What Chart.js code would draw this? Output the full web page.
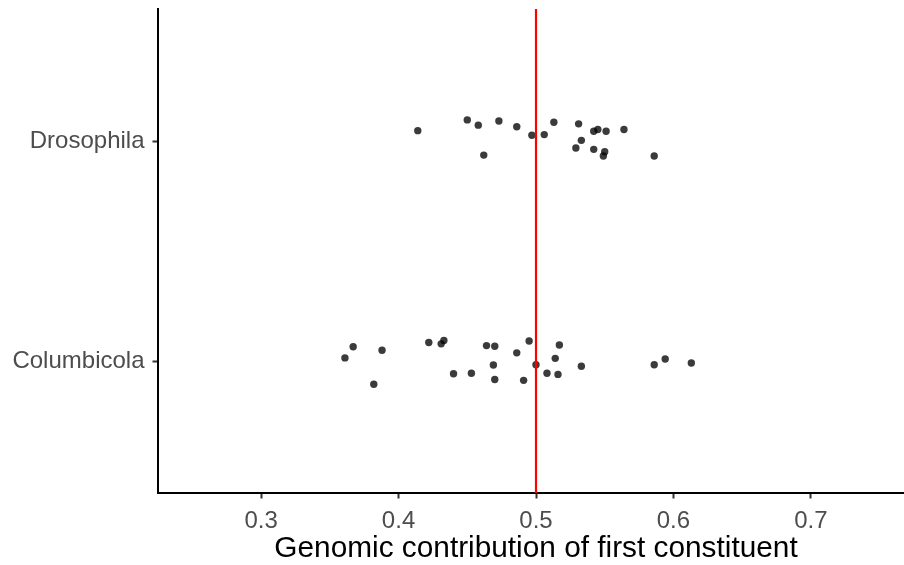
<!DOCTYPE html>
<html>
<head>
<meta charset="utf-8">
<title>Genomic contribution of first constituent</title>
<script src="https://cdn.jsdelivr.net/npm/chart.js@4"></script>
<style>
  html, body { margin: 0; padding: 0; background: #ffffff; overflow: hidden; }
  #wrap { width: 904px; height: 565px; overflow: hidden; }
</style>
</head>
<body>
<div id="wrap"><canvas id="chart" width="914" height="565"></canvas></div>
<script>
// Groups shown on the vertical axis (bottom to top)
const categories = ['Columbicola', 'Drosophila'];

// Genomic contribution of the first constituent, per sample
const columbicolaValues = [0.367, 0.361, 0.388, 0.382, 0.422, 0.431, 0.433, 0.440, 0.453,
  0.464, 0.470, 0.469, 0.470, 0.486, 0.495, 0.491, 0.500, 0.508, 0.517, 0.514, 0.516,
  0.533, 0.586, 0.594, 0.613];
const drosophilaValues = [0.414, 0.450, 0.458, 0.473, 0.486, 0.497, 0.506, 0.513, 0.531,
  0.542, 0.545, 0.551, 0.564, 0.533, 0.529, 0.542, 0.550, 0.549, 0.462, 0.586];

// Vertical jitter of each point around its group line (in group units)
const columbicolaJitter = [0.065, 0.014, 0.049, -0.106, 0.084, 0.078, 0.093, -0.058, -0.056,
  0.070, 0.067, -0.018, -0.084, 0.037, 0.091, -0.088, -0.017, -0.056, 0.073, 0.012, -0.061,
  -0.024, -0.017, 0.009, -0.009];
const drosophilaJitter = [0.047, 0.096, 0.072, 0.091, 0.065, 0.026, 0.029, 0.085, 0.078,
  0.044, 0.052, 0.044, 0.052, 0.003, -0.032, -0.038, -0.049, -0.068, -0.064, -0.068];

// Axis ticks and the reference line
const xTicks = [0.3, 0.4, 0.5, 0.6, 0.7];
const referenceValue = 0.5;
const xRange = [0.225, 0.775];
const yRange = [0.4, 2.6];

const FONT = "'Liberation Sans', Arial, Helvetica, sans-serif";

function groupPoints(values, jitter, groupIndex) {
  return values.map((v, i) => ({ x: v, y: groupIndex + 1 + jitter[i] }));
}

const points = groupPoints(columbicolaValues, columbicolaJitter, 0)
  .concat(groupPoints(drosophilaValues, drosophilaJitter, 1));

// Keep the plotting area flush with the axis lines (no label overhang padding)
function noOverhang(scale) {
  scale.paddingTop = 0;
  scale.paddingBottom = 0;
  scale.paddingLeft = 0;
  scale.paddingRight = 0;
}

new Chart(document.getElementById('chart'), {
  type: 'scatter',
  data: {
    datasets: [
      {
        type: 'line',
        data: [{ x: referenceValue, y: yRange[0] }, { x: referenceValue, y: yRange[1] }],
        borderColor: '#ff0000',
        borderWidth: 2.2,
        pointRadius: 0,
        fill: false,
        order: 0
      },
      {
        data: points,
        pointRadius: 3.7,
        pointHoverRadius: 3.7,
        pointBackgroundColor: 'rgba(0,0,0,0.77)',
        pointBorderWidth: 0,
        order: 1
      }
    ]
  },
  options: {
    responsive: false,
    animation: false,
    devicePixelRatio: 1,
    layout: { autoPadding: false, padding: { top: 9, right: 0, bottom: 0, left: 0 } },
    plugins: {
      legend: { display: false },
      tooltip: { enabled: false }
    },
    scales: {
      x: {
        type: 'linear',
        min: xRange[0],
        max: xRange[1],
        afterBuildTicks: (scale) => { scale.ticks = xTicks.map(v => ({ value: v })); },
        afterFit: (scale) => { scale.height = 72; noOverhang(scale); },
        border: { display: true, color: '#000000', width: 2 },
        grid: {
          display: true,
          drawOnChartArea: false,
          drawTicks: true,
          tickLength: 5.5,
          tickColor: '#333333',
          tickWidth: 2
        },
        ticks: {
          autoSkip: false,
          maxRotation: 0,
          padding: 10.5,
          color: '#4d4d4d',
          font: { family: FONT, size: 24, lineHeight: 1 },
          callback: (v) => Number(v).toFixed(1)
        },
        title: {
          display: true,
          text: 'Genomic contribution of first constituent',
          color: '#000000',
          font: { family: FONT, size: 29.8, lineHeight: 1 },
          padding: { top: 0, bottom: 1 }
        }
      },
      y: {
        type: 'linear',
        min: yRange[0],
        max: yRange[1],
        afterBuildTicks: (scale) => { scale.ticks = categories.map((c, i) => ({ value: i + 1 })); },
        afterFit: (scale) => { scale.width = 158; noOverhang(scale); },
        border: { display: true, color: '#000000', width: 2 },
        grid: {
          display: true,
          drawOnChartArea: false,
          drawTicks: true,
          tickLength: 5.5,
          tickColor: '#333333',
          tickWidth: 2
        },
        ticks: {
          autoSkip: false,
          padding: 8,
          color: '#4d4d4d',
          font: { family: FONT, size: 24, lineHeight: 1 },
          callback: (v) => categories[Math.round(v) - 1] || ''
        }
      }
    }
  }
});
</script>
</body>
</html>
